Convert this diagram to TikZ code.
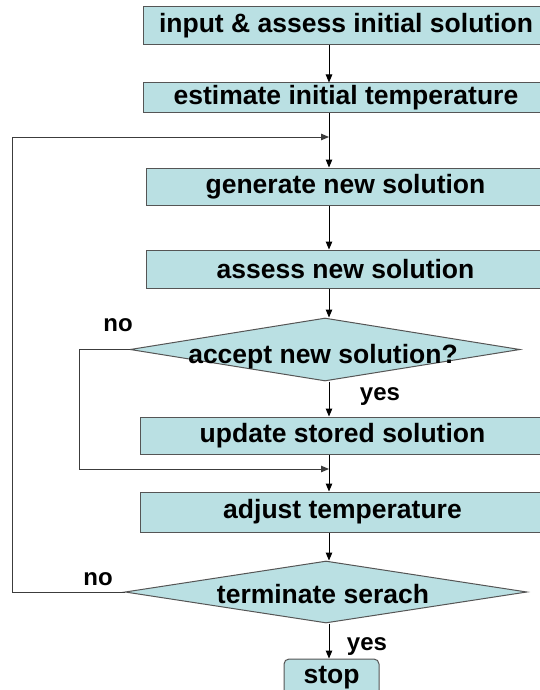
\documentclass[tikz,border=0pt]{standalone}
\usepackage{fontspec}
\setmainfont{Liberation Sans}
\usetikzlibrary{arrows.meta,shapes.geometric}
\definecolor{boxfill}{RGB}{186,224,227}
\definecolor{boxborder}{RGB}{85,85,85}
\definecolor{loopcol}{RGB}{60,60,60}
\newcommand{\boxfont}{\fontsize{26.5}{30}\selectfont\bfseries}
\newcommand{\labfont}{\fontsize{24}{28}\selectfont\bfseries}
\tikzset{
  procbox/.style={draw=boxborder, fill=boxfill, line width=1pt, inner sep=0pt, font=\boxfont},
  stopbox/.style={procbox, rounded corners=5pt},
  decision/.style={diamond, draw=boxborder, fill=boxfill, line width=1pt, inner sep=0pt},
  dtext/.style={inner sep=0pt, font=\boxfont},
  lab/.style={inner sep=0pt, font=\labfont},
  flow/.style={-{Triangle[length=8pt,width=6.5pt]}, line width=1pt, draw=black},
  loopflow/.style={flow, draw=loopcol}
}
\begin{document}
\begin{tikzpicture}[x=1pt,y=-1pt]
\useasboundingbox (0,0) rectangle (540,690);
\clip (0,0) rectangle (540,690);
\fill[white] (0,0) rectangle (540,690);
% boxes
\node[procbox, minimum width=406pt, minimum height=38pt] (box1) at (346,26) {input \& assess initial solution};
\node[procbox, minimum width=406pt, minimum height=30pt] (box2) at (346,98) {estimate initial temperature};
\node[procbox, minimum width=399pt, minimum height=37pt] (gen) at (345.5,186.5) {generate new solution};
\node[procbox, minimum width=399pt, minimum height=38pt] (ass) at (345.5,269) {assess new solution};
\node[decision, minimum width=390pt, minimum height=63pt] (d1) at (325,349.5) {};
\node[dtext] (d1t) at (323,357) {accept new solution?};
\node[procbox, minimum width=405pt, minimum height=37pt] (upd) at (342.5,435.5) {update stored solution};
\node[procbox, minimum width=405pt, minimum height=40pt] (adj) at (342.5,512) {adjust temperature};
\node[decision, minimum width=402pt, minimum height=62pt] (d2) at (326,592) {};
\node[dtext] (d2t) at (323,594) {terminate serach};
\node[stopbox, minimum width=95pt, minimum height=38pt] (stop) at (331.5,678) {stop};
% helper coordinates
\coordinate (spine) at (329,0);
\coordinate (innerx) at (79,0);
\coordinate (outerx) at (12,0);
\coordinate (join1) at (329,469);
\coordinate (join2) at (329,137);
% main flow
\draw[flow] (box1.south -| spine) -- (box2.north -| spine);
\draw[flow] (box2.south -| spine) -- (gen.north -| spine);
\draw[flow] (gen.south -| spine) -- (ass.north -| spine);
\draw[flow] (ass.south -| spine) -- (d1.north -| spine);
\draw[flow] (d1.south -| spine) -- (upd.north -| spine);
\draw[flow] (upd.south -| spine) -- (adj.north -| spine);
\draw[flow] (adj.south -| spine) -- (d2.north -| spine);
\draw[flow] (d2.south -| spine) -- (stop.north -| spine);
% loops
\draw[loopflow] (d1.west) -- (d1.west -| innerx) |- (join1);
\draw[loopflow] (d2.west) -- (d2.west -| outerx) |- (join2);
% labels
\node[lab] (no1) at (118,325) {no};
\node[lab] (yes1) at (380,397) {yes};
\node[lab] (no2) at (98,579) {no};
\node[lab] (yes2) at (367,647) {yes};
\end{tikzpicture}
\end{document}
